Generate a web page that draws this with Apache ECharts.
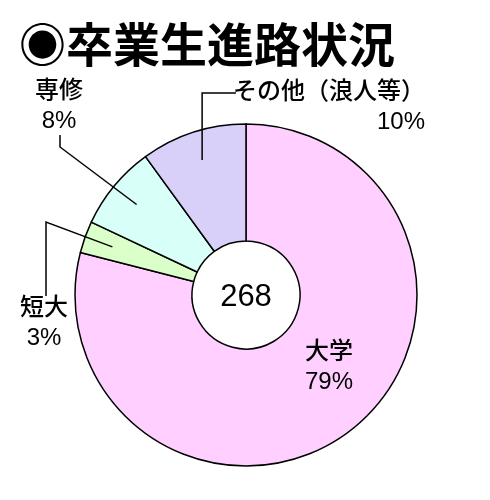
<!DOCTYPE html>
<html>
<head>
<meta charset="utf-8">
<script src="https://cdn.jsdelivr.net/npm/echarts@6/dist/echarts.min.js"></script>
<style>
  html, body { margin: 0; padding: 0; background: #fff; }
  #main { width: 490px; height: 500px; }
</style>
</head>
<body>
<div id="main"></div>
<script>
// data
var categories = ['大学', '短大', '専修', 'その他（浪人等）'];
var percents = [79, 3, 8, 10];
var colors = ['#ffd0ff', '#daffc8', '#d8fff8', '#d8d0f8'];
var total = 268;
var titleText = '◉卒業生進路状況';

var font = '"Liberation Sans", "Noto Sans CJK JP", sans-serif';
var cx = 246, cy = 295, r0 = 54, r1 = 171;

// where each label block sits
var labelPos = [
  { x: 329, y: 367, align: 'center' },
  { x: 44, y: 323, align: 'center' },
  { x: 59, y: 106, align: 'center' },
  { x: 425, y: 107, align: 'right' }
];

// point inside slice i (mid angle), clockwise from 12 o'clock
function anchor(i, rad) {
  var before = 0;
  for (var k = 0; k < i; k++) before += percents[k];
  var sum = percents.reduce(function (a, b) { return a + b; }, 0);
  var a = (before + percents[i] / 2) / sum * 2 * Math.PI;
  return [cx + rad * Math.sin(a), cy - rad * Math.cos(a)];
}

function leader(i) {
  var p = anchor(i, 142);
  if (i === 1) return [p, [46, 222], [46, 296]];
  if (i === 2) return [p, [60, 147], [60, 135]];
  if (i === 3) return [p, [p[0], 93], [236, 93]];
  return null;
}

var lines = [];
categories.forEach(function (c, i) {
  var pts = leader(i);
  if (!pts) return;
  lines.push({
    type: 'polyline',
    z: 100,
    shape: { points: pts },
    style: { stroke: '#000', lineWidth: 1.5, fill: null }
  });
});

var chart = echarts.init(document.getElementById('main'));

var option = {
  backgroundColor: '#ffffff',
  animation: false,
  title: {
    text: titleText,
    left: 14,
    top: 16,
    textStyle: { fontFamily: '"Noto Sans CJK JP", sans-serif', fontSize: 47, fontWeight: 'bold', color: '#000' }
  },
  graphic: lines.concat([{
    type: 'text',
    z: 100,
    x: cx,
    y: cy + 2,
    style: {
      text: String(total),
      fontFamily: font,
      fontSize: 31,
      fill: '#000',
      textAlign: 'center',
      textVerticalAlign: 'middle'
    }
  }]),
  series: [{
    type: 'pie',
    center: [cx, cy],
    radius: [r0, r1],
    startAngle: 90,
    clockwise: true,
    avoidLabelOverlap: false,
    itemStyle: { borderColor: '#000', borderWidth: 1.5 },
    label: {
      show: true,
      position: 'outside',
      formatter: '{b}\n{c}%',
      fontFamily: font,
      fontSize: 24,
      fontWeight: 500,
      lineHeight: 30,
      color: '#000'
    },
    labelLine: { show: false },
    labelLayout: function (params) {
      var lp = labelPos[params.dataIndex];
      return { x: lp.x, y: lp.y, align: lp.align, verticalAlign: 'middle' };
    },
    data: categories.map(function (name, i) {
      return { name: name, value: percents[i], itemStyle: { color: colors[i] } };
    })
  }]
};

chart.setOption(option);
</script>
</body>
</html>
